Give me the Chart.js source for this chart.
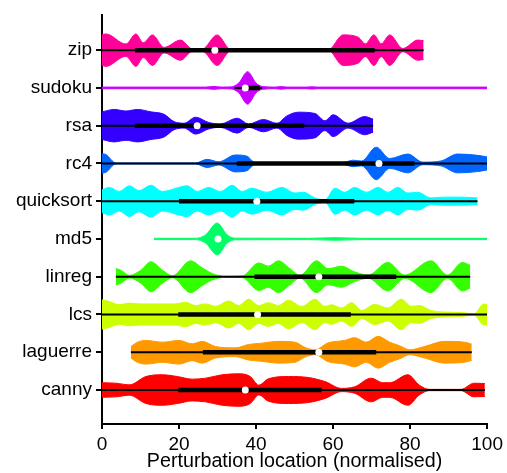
<!DOCTYPE html>
<html>
<head>
<meta charset="utf-8">
<script src="https://cdn.jsdelivr.net/npm/chart.js@4"></script>
<style>
  html, body { margin: 0; padding: 0; background: #fff; }
</style>
</head>
<body>
<canvas id="violinChart" width="507" height="473"></canvas>
<script>
// categories bottom to top
const categories = ["canny", "laguerre", "lcs", "linreg", "md5", "quicksort", "rc4", "rsa", "sudoku", "zip"];
const colours = ["#ff0000", "#ff9900", "#ccff00", "#33ff00", "#00ff66", "#00ffff", "#0066ff", "#3300ff", "#cc00ff", "#ff0099"];

// violin outlines: [location, density]
const cannyDensity = [[0, 4.5], [3.6, 4.2], [7.1, 3.2], [11.4, 8.3], [15.7, 9.4], [19.6, 8.3], [23.4, 6.7], [26.9, 7.3], [31.2, 9.4], [35.5, 10], [38.5, 8.3], [40.7, 3], [43.2, 6.9], [48.4, 8.3], [53.6, 7.7], [57.9, 5.2], [62.2, 1], [65.6, 2], [69.9, 7.3], [72.9, 4.5], [74.7, 4.5], [79.4, 9.4], [82.4, 3], [85, 0.4], [93.2, 0.4], [96.6, 4.2], [99.4, 4]];
const laguerreDensity = [[7.5, 3.5], [9.2, 6.2], [11.4, 7.3], [15.7, 6.2], [20, 7.3], [23.4, 5.2], [26, 6.7], [29.5, 3.5], [34.6, 2.7], [38.1, 4.8], [41.5, 5.6], [45.8, 6.7], [50.1, 6.2], [52.7, 3], [55.3, 1.5], [58.7, 5.8], [63, 7.3], [65.6, 9], [68.6, 6.2], [71.7, 9.8], [74.7, 6.2], [77.3, 4], [79.9, 1.5], [83.7, 3.5], [88.9, 6.7], [94.1, 6.2], [96, 5]];
const lcsDensity = [[0, 9], [1.9, 8], [4.5, 6], [7.1, 7], [9.6, 6.5], [19.1, 6.5], [21.7, 7.5], [24.3, 5.5], [26.9, 6.5], [29.5, 5], [32.9, 8.3], [35.5, 5.5], [38.1, 9.4], [40.7, 5.5], [43.2, 7.3], [45.8, 5.5], [48.4, 8.8], [51.9, 5], [55.3, 9.4], [57.9, 5], [59.6, 6], [62.2, 4], [64.8, 7.3], [67.4, 2.5], [70.8, 6.2], [74.2, 4], [77.7, 9.4], [80.3, 5], [82.4, 5.5], [85.4, 2.5], [88.9, 1.5], [93.2, 1.2], [96.6, 0.5], [99.2, 6.5], [100, 6]];
const linregDensity = [[3.6, 5], [4.9, 4], [7.1, 0.8], [10.1, 4], [12.7, 9.2], [15.7, 4], [18.3, 0.6], [23, 9.8], [26, 5.5], [28.6, 2], [32, 0.3], [36.4, 0.5], [40.7, 8.5], [43.2, 6.5], [45.8, 9.8], [48.8, 5], [51.4, 0.8], [55.7, 9.8], [58.7, 5], [62.2, 6.5], [65.6, 3], [69.1, 1], [74.2, 8.8], [78.6, 1], [85.4, 9.8], [89.7, 1], [93.6, 8.8], [95.6, 7]];
const md5Density = [[13.5, 0.4], [24.3, 0.4], [26.9, 2.5], [29.9, 9.8], [32.5, 2.5], [34.6, 0.5], [53.6, 0.4], [60.5, 0.8], [67.4, 0.4], [100, 0.4]];
const quicksortDensity = [[0, 7], [1.9, 8.5], [4.5, 6], [7.1, 9.5], [9.6, 6.5], [12.7, 9.8], [15.7, 6], [20, 8.5], [22.1, 9.5], [24.7, 6], [27.7, 8.5], [30.7, 6], [33.8, 9.8], [36.4, 6], [38.9, 8], [42.8, 5.5], [46.7, 8.5], [50.1, 5], [52.3, 5.5], [55.3, 2], [57.9, 0.8], [60.5, 8], [63, 5.5], [65.6, 8.5], [68.7, 5.5], [71.7, 8.5], [74.2, 5.5], [76.8, 8.5], [79.4, 5], [82, 5.5], [85.4, 2], [88.9, 2.5], [93.2, 2.5], [97.5, 2]];
const rc4Density = [[0, 6], [1, 5.5], [3.6, 0.3], [24.3, 0.3], [27.3, 2.5], [30.3, 1], [34.6, 5.2], [37.6, 4.5], [39.8, 0.5], [62.2, 0.3], [65.2, 2], [67.4, 1.5], [71.2, 10], [74.7, 3], [79.4, 5.8], [83.3, 0.8], [88, 1.5], [92.3, 5.8], [97.5, 5], [100, 4]];
const rsaDensity = [[0, 8.5], [3.2, 10], [6.2, 9], [9.2, 10], [12.7, 8.5], [16.1, 7], [18.7, 2.5], [21.3, 1.5], [24.3, 5.2], [27.7, 2], [30.7, 1], [35.1, 4.6], [38.1, 1], [41.9, 3.8], [45.4, 1.5], [48, 6], [51, 8.3], [55.3, 7.5], [57.9, 3], [60, 6.7], [63.9, 1.5], [68.2, 5.6], [70.4, 4]];
const sudokuDensity = [[0, 0.5], [27, 0.5], [29, 0.9], [31, 0.5], [33.5, 0.6], [35.5, 3], [37.8, 10], [40, 3], [41.6, 0.9], [45, 0.5], [46.5, 0.8], [48, 0.5], [53, 0.5], [54.5, 0.7], [56, 0.5], [100, 0.5]];
const zipDensity = [[0, 9.4], [1, 10], [6.2, 3.8], [8.8, 10], [10.7, 4.6], [13.1, 9.4], [16.1, 1.7], [20.4, 6.2], [23.4, 0.8], [26, 0.6], [29.9, 9.4], [32.9, 1], [34.6, 0], [58.7, 0], [62.6, 9.4], [66.5, 8], [68.4, 4], [70.6, 9.4], [72.5, 4], [74.7, 9.4], [78.1, 1], [82, 6.2], [83.5, 5.8]];

const densities = [cannyDensity, laguerreDensity, lcsDensity, linregDensity, md5Density, quicksortDensity, rc4Density, rsaDensity, sudokuDensity, zipDensity];

// box parts
const whiskerLow = [0, 7.5, 0, 3.6, 29.6, 0, 0, 0, 34.4, 0];
const whiskerHigh = [99.4, 96, 100, 95.6, 30.6, 97.5, 100, 70.4, 41.6, 83.5];
const q1 = [19.8, 26.2, 19.8, 39.6, 29.6, 20, 35, 8.6, 36.5, 8.6];
const q3 = [57, 71.2, 64.6, 76.4, 30.6, 65.5, 81.1, 52.5, 41, 70.8];
const medians = [37.2, 56.3, 40.4, 56.3, 30.1, 40.2, 71.9, 24.7, 37.2, 29.3];

const xTicks = [0, 20, 40, 60, 80, 100];

const halfWidthScale = 0.043;
const fontFamily = "'Liberation Sans', Arial, sans-serif";

const datasets = [];
categories.forEach((name, i) => {
  const d = densities[i];
  const common = {
    borderColor: colours[i],
    backgroundColor: colours[i],
    borderWidth: 1,
    pointRadius: 0,
    cubicInterpolationMode: "monotone",
    order: 3,
  };
  datasets.push({ ...common, label: name, data: d.map(p => ({ x: p[0], y: i + p[1] * halfWidthScale })), fill: false });
  datasets.push({ ...common, label: name, data: d.map(p => ({ x: p[0], y: i - p[1] * halfWidthScale })), fill: "-1" });
});

categories.forEach((name, i) => {
  datasets.push({
    label: name + " whisker",
    data: [{ x: whiskerLow[i], y: i }, { x: whiskerHigh[i], y: i }],
    borderColor: "#000",
    borderWidth: 2,
    pointRadius: 0,
    fill: false,
    order: 2,
  });
  datasets.push({
    label: name + " iqr",
    data: [{ x: q1[i], y: i }, { x: q3[i], y: i }],
    borderColor: "#000",
    borderWidth: 4.5,
    pointRadius: 0,
    fill: false,
    order: 1,
  });
});

datasets.push({
  label: "median",
  data: medians.map((m, i) => ({ x: m, y: i })),
  showLine: false,
  pointRadius: 3.5,
  pointBackgroundColor: "#fff",
  pointBorderWidth: 0,
  order: 0,
});

const ctx = document.getElementById("violinChart").getContext("2d");
new Chart(ctx, {
  type: "line",
  data: { datasets },
  options: {
    responsive: false,
    animation: false,
    events: [],
    layout: { padding: { top: 13, right: 18, left: 0, bottom: 0 } },
    plugins: { legend: { display: false }, tooltip: { enabled: false } },
    scales: {
      x: {
        type: "linear",
        min: 0,
        max: 100,
        afterBuildTicks: s => { s.ticks = xTicks.map(v => ({ value: v })); },
        afterFit: s => { s.height = 49; },
        ticks: { color: "#000", font: { family: fontFamily, size: 19 }, padding: 4, maxRotation: 0 },
        grid: { drawOnChartArea: false, color: "#000", lineWidth: 2, tickLength: 5 },
        border: { color: "#000", width: 2 },
        title: {
          display: true,
          text: "Perturbation location (normalised)",
          color: "#000",
          font: { family: fontFamily, size: 19.7 },
          padding: { top: 0, bottom: 0 },
        },
      },
      y: {
        type: "linear",
        min: -0.9,
        max: 9.92,
        afterBuildTicks: s => { s.ticks = categories.map((_, i) => ({ value: i })); },
        afterFit: s => { s.width = 102; },
        ticks: { color: "#000", font: { family: fontFamily, size: 19 }, padding: 4, autoSkip: false, callback: v => categories[v] },
        grid: { drawOnChartArea: false, color: "#000", lineWidth: 2, tickLength: 6 },
        border: { color: "#000", width: 2 },
      },
    },
  },
});
</script>
</body>
</html>
